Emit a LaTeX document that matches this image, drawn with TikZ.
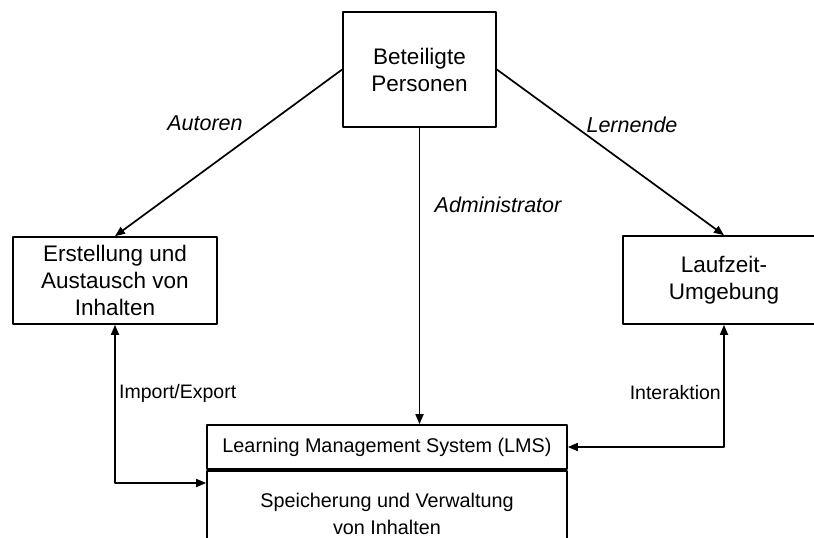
\documentclass[tikz,border=0pt]{standalone}
\usepackage{fontspec}
\setmainfont{Liberation Sans}
\usetikzlibrary{arrows.meta}
\begin{document}
\begin{tikzpicture}[x=1pt, y=-1pt, line join=round, >={Triangle[length=10pt,width=8pt]},
	box/.style={draw, line width=1.7pt, inner sep=0pt, align=center, font=\fontsize{22.5}{27}\selectfont},
	lms/.style={draw, line width=1.7pt, inner sep=0pt, align=center, minimum width=360pt, font=\fontsize{19.8}{27}\selectfont},
	rolle/.style={inner sep=1pt, font=\fontsize{21.5}{24}\selectfont\itshape},
	fluss/.style={inner sep=1pt, font=\fontsize{19.5}{24}\selectfont},
	conn/.style={line width=1.7pt}]
	\useasboundingbox (0,0) rectangle (814,538);
	\clip (0,0) rectangle (814,538);
	
	% Kaesten
	\node[box, minimum width=153pt, minimum height=115pt] (P) at (419.5,69.5) {Beteiligte\\Personen};
	\node[box, minimum width=204pt, minimum height=87pt] (E) at (115,280.5) {Erstellung und\\Austausch von\\Inhalten};
	\node[box, minimum width=202pt, minimum height=88pt] (L) at (724,280) {Laufzeit-\\Umgebung};
	\node[lms, minimum height=44pt] (H) at (387,447) {Learning Management System (LMS)};
	\node[lms, minimum height=86pt, anchor=north] (S) at (H.south) {Speicherung und Verwaltung\\von Inhalten};
	
	% Verbindungen
	\draw[conn,->] (P.west) -- (E.north);
	\draw[conn,->] (P.east) -- (L.north);
	\draw[conn,->] (P.south) -- (P.south |- H.north);
	\draw[conn,<->] (E.south) |- (H.west |- 0,483);
	\draw[conn,<->] (L.south) |- (H.east);
	
	% Beschriftungen
	\node[rolle] (au) at (205,123) {Autoren};
	\node[rolle] (le) at (632,125) {Lernende};
	\node[rolle] (ad) at (498,205) {Administrator};
	\node[fluss, anchor=west] (ie) at (118,393) {Import/Export};
	\node[fluss, anchor=east] (ia) at (722,393) {Interaktion};
\end{tikzpicture}
\end{document}
